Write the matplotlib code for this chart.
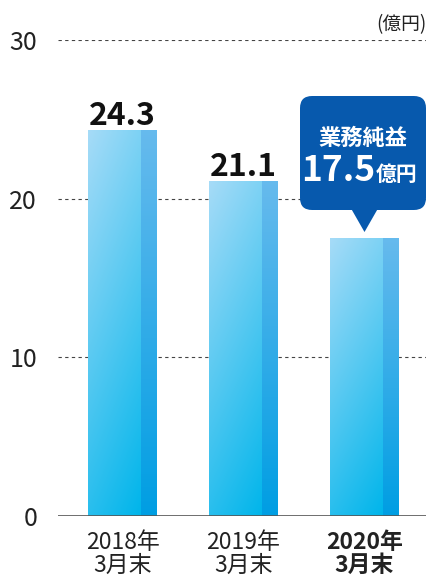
import numpy as np
import matplotlib
matplotlib.use("Agg")
import matplotlib.pyplot as plt
from matplotlib.patches import FancyBboxPatch, Polygon

plt.rcParams['font.family'] = ['Noto Sans CJK JP', 'DejaVu Sans']

# data
categories = ['2018年\n3月末', '2019年\n3月末', '2020年\n3月末']
values = [24.3, 21.1, 17.5]
value_labels = ['24.3', '21.1', '']
yticks = [0, 10, 20, 30]
unit_label = '(億円)'
callout_title = '業務純益'
callout_value = '17.5'
callout_unit = '億円'

W, H = 427, 577
fig = plt.figure(figsize=(W / 100, H / 100), dpi=100)
ax = fig.add_axes([58 / W, 61 / H, 369 / W, 476 / H])

# x scale: 121 px per category
px = 1 / 121
py = 30 / 476

front_l, front_r, side_r = -34.5 * px, 18.5 * px, 34.5 * px

# gradients
g = np.linspace(0, 1, 64)
gx, gy = np.meshgrid(g, g)
t_front = np.clip(0.75 * gy + 0.25 * gx, 0, 1)
c_top = np.array([0.65, 0.86, 0.97])
c_bot = np.array([0.0, 0.71, 0.92])
img_front = c_top * (1 - t_front[..., None]) + c_bot * t_front[..., None]
s_top = np.array([0.40, 0.73, 0.93])
s_bot = np.array([0.0, 0.62, 0.89])
img_side = s_top * (1 - gy[..., None]) + s_bot * gy[..., None]

for i, v in enumerate(values):
    ax.imshow(img_front, extent=[i + front_l, i + front_r, 0, v], origin='upper',
              aspect='auto', zorder=3, interpolation='bilinear')
    ax.imshow(img_side, extent=[i + front_r, i + side_r, 0, v], origin='upper',
              aspect='auto', zorder=3, interpolation='bilinear')
    if value_labels[i]:
        ax.text(i, v + 5 * py, value_labels[i], ha='center', va='baseline',
                fontsize=23, fontweight='bold', color='#111111', zorder=5)

ax.set_xlim(-(122.5 - 58) * px, 2 + (427 - 364.5) * px)
ax.set_ylim(0, 30)

# grid
for yv in yticks[1:]:
    ax.axhline(yv, color='#444444', lw=0.8, ls=(0, (3, 3)), zorder=1)
ax.axhline(0, color='#555555', lw=1.2, zorder=4)

for s in ax.spines.values():
    s.set_visible(False)
ax.set_yticks(yticks)
ax.set_yticklabels([str(t) for t in yticks], fontsize=18, color='#222222')
ax.tick_params(axis='y', length=0, pad=15)
ax.set_xticks(range(len(categories)))
ax.set_xticklabels(categories, fontsize=16.5, color='#222222', linespacing=1.0)
ax.tick_params(axis='x', length=0, pad=11)
ax.get_xticklabels()[2].set_fontweight('bold')

ax.text(1.0, 30 + 10 * py, unit_label, transform=ax.get_yaxis_transform(),
        ha='right', va='baseline', fontsize=13.5, color='#222222')

# callout
navy = '#0759ad'
x0 = 2 + (300 - 364.5) * px
x1 = 2 + (426 - 364.5) * px
yb = (516 - 210) * py
yt = (516 - 96) * py
box = FancyBboxPatch((x0, yb), x1 - x0, yt - yb,
                     boxstyle='round,pad=0,rounding_size=0.1',
                     mutation_aspect=py / px, fc=navy, ec='none', zorder=6,
                     clip_on=False)
ax.add_patch(box)
tri = Polygon([[2 - 13.5 * px, yb + 0.1], [2 + 13.5 * px, yb + 0.1],
               [2, (516 - 232) * py]], closed=True, fc=navy, ec='none', zorder=6)
ax.add_patch(tri)
ax.text(2 + (363 - 364.5) * px, (516 - 138) * py, callout_title, ha='center', va='center',
        fontsize=16, fontweight='bold', color='white', zorder=7)
ax.text(2 + (375 - 364.5) * px, (516 - 181) * py, callout_value, ha='right', va='baseline',
        fontsize=25.5, fontweight='bold', color='white', zorder=7)
ax.text(2 + (376 - 364.5) * px, (516 - 181) * py, callout_unit, ha='left', va='baseline',
        fontsize=15, fontweight='bold', color='white', zorder=7)

fig.savefig('out.png', dpi=100)
